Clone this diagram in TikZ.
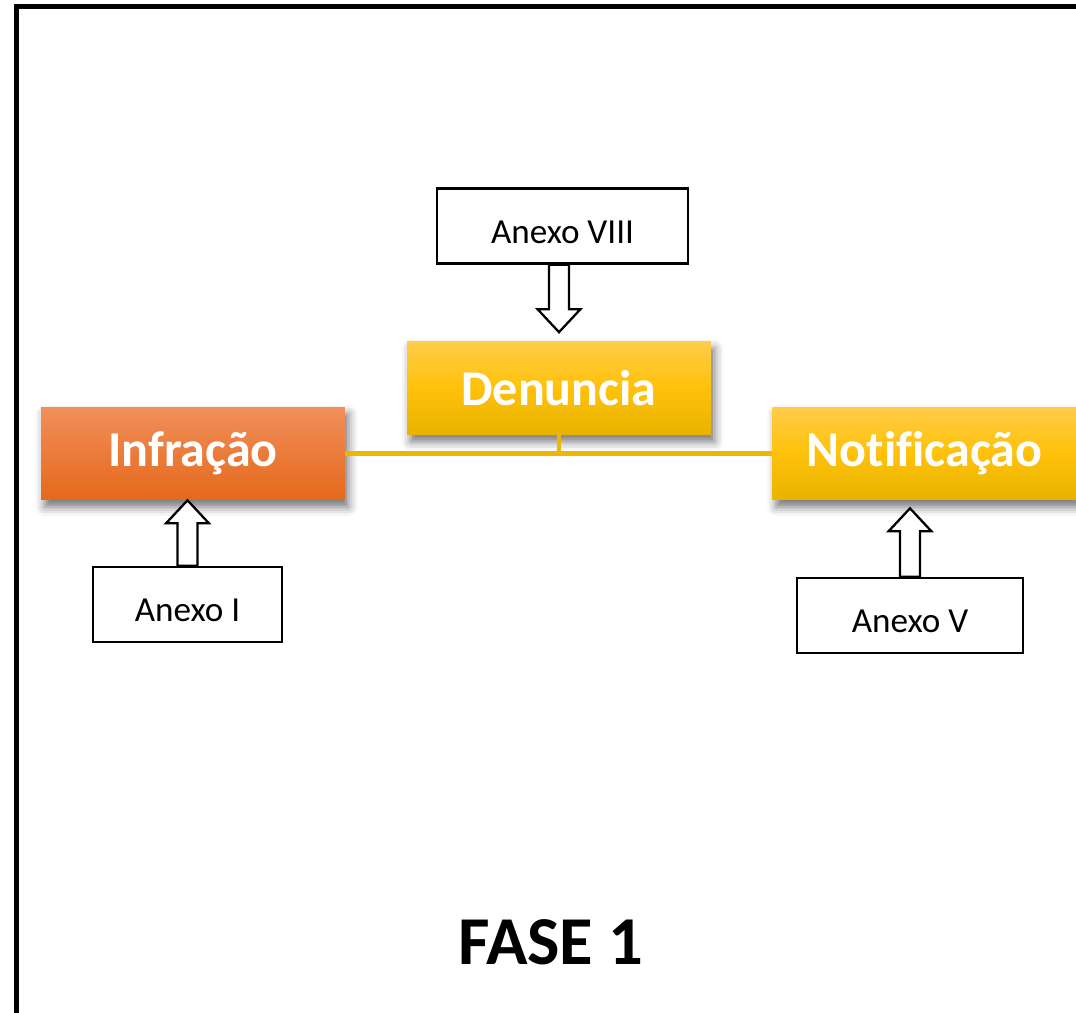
\documentclass[tikz,border=0pt]{standalone}
\usepackage{fontspec}
\setmainfont{Carlito}[Ligatures=NoCommon]
\usetikzlibrary{calc,shadows.blur}

\definecolor{infratop}{RGB}{241,143,90}
\definecolor{infrabot}{RGB}{229,104,28}
\definecolor{goldtop}{RGB}{255,204,72}
\definecolor{goldmid}{RGB}{255,193,10}
\definecolor{goldbot}{RGB}{231,179,0}
\definecolor{linkgold}{RGB}{238,182,0}

% hollow block arrow from #1 to #2
\newcommand{\hollowarrow}[2]{%
  \path ($(#2)!0.46cm!(#1)$) coordinate (hb);
  \draw[hollow] ($(#1)!0.2cm!90:(#2)$) -- ($(hb)!0.2cm!-90:(#1)$)
    -- ($(hb)!0.43cm!-90:(#1)$) -- (#2) -- ($(hb)!0.43cm!90:(#1)$)
    -- ($(hb)!0.2cm!90:(#1)$) -- ($(#1)!0.2cm!-90:(#2)$) -- cycle;}

\begin{document}
\begin{tikzpicture}[x=0.02cm, y=-0.02cm,
  phase/.style={minimum width=6.08cm, minimum height=1.86cm, inner sep=0pt,
    text=white, font=\fontsize{28.5}{30}\selectfont\bfseries,
    blur shadow={shadow xshift=2pt, shadow yshift=-4pt,
      shadow blur radius=5pt, shadow opacity=55}},
  orangefill/.style={top color=infratop, bottom color=infrabot},
  goldfill/.style={top color=goldtop, bottom color=goldbot, middle color=goldmid},
  annex/.style={draw, line width=1.4pt, fill=white, inner sep=0pt,
    minimum height=1.5cm, text height=22pt, text depth=2.3pt,
    font=\fontsize{20}{22}\selectfont},
  hollow/.style={line width=1.3pt, fill=white, line join=miter},
  link/.style={draw=linkgold, line width=2.3pt}]

  \useasboundingbox (0,0) rectangle (1076,1013);

  % frame
  \draw[line width=3pt] (16.5,1013) -- (16.5,6.5) -- (1076,6.5);

  % phases
  \node[phase, orangefill] (inf) at (193,453.5) {Infração};
  \node[phase, goldfill] (den) at (559,388) {Denuncia};
  \node[phase, goldfill] (notif) at (924.5,453.5) {Notificação};

  \draw[link] (inf.east) -- (notif.west);
  \draw[link] (den.south) -- (den.south |- inf.east);

  % annexes
  \node[annex, minimum width=5.02cm] (ax8) at (562.5,226) {Anexo VIII};
  \node[annex, minimum width=3.78cm] (ax1) at (187.5,604.5) {Anexo I};
  \node[annex, minimum width=4.52cm] (axv) at (910,615.5) {Anexo V};

  \coordinate (s8) at (den.north |- ax8.south);
  \coordinate (t8) at ($(den.north)+(0,-9)$);
  \coordinate (t1) at (ax1.north |- inf.south);
  \coordinate (tv) at ($(axv.north |- notif.south)+(0,8)$);
  \hollowarrow{s8}{t8}
  \hollowarrow{ax1.north}{t1}
  \hollowarrow{axv.north}{tv}

  \node[font=\fontsize{39}{42}\selectfont\bfseries] (fase) at (551,942) {FASE 1};
\end{tikzpicture}
\end{document}
